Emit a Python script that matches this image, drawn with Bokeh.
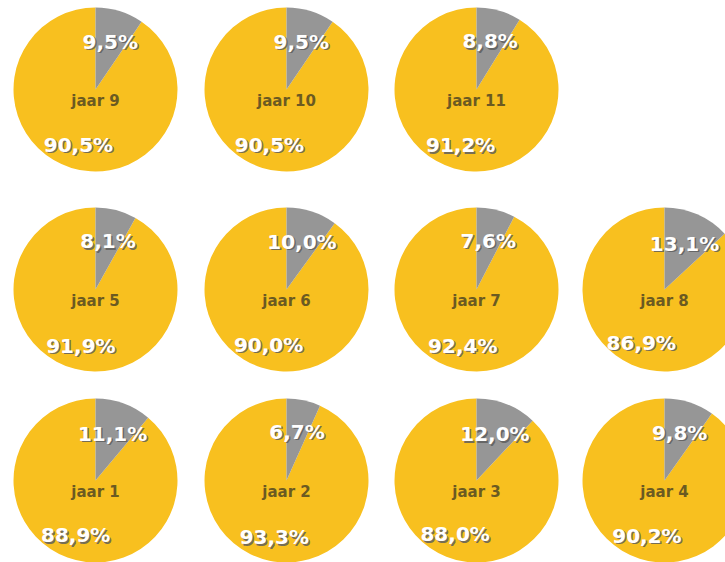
import math
from bokeh.plotting import figure
from bokeh.models import Range1d
from bokeh.core.properties import value
from bokeh.embed import file_html
from bokeh.resources import INLINE

# Data
years = ["jaar 9", "jaar 10", "jaar 11",
         "jaar 5", "jaar 6", "jaar 7", "jaar 8",
         "jaar 1", "jaar 2", "jaar 3", "jaar 4"]
gray_pct = [9.5, 9.5, 8.8, 8.1, 10.0, 7.6, 13.1, 11.1, 6.7, 12.0, 9.8]
yellow_pct = [90.5, 90.5, 91.2, 91.9, 90.0, 92.4, 86.9, 88.9, 93.3, 88.0, 90.2]
gray_labels = ["9,5%", "9,5%", "8,8%", "8,1%", "10,0%", "7,6%", "13,1%", "11,1%", "6,7%", "12,0%", "9,8%"]
yellow_labels = ["90,5%", "90,5%", "91,2%", "91,9%", "90,0%", "92,4%", "86,9%", "88,9%", "93,3%", "88,0%", "90,2%"]

# Layout (grid positions, image pixel coordinates)
W, H = 725, 562
col_x = [95, 286, 476, 664]
row_y = [89, 289, 480]
grid = [(0, 0), (1, 0), (2, 0),
        (0, 1), (1, 1), (2, 1), (3, 1),
        (0, 2), (1, 2), (2, 2), (3, 2)]
R = 82

YELLOW = "#F8C01F"
GRAY = "#969696"

p = figure(width=W, height=H, output_backend="svg", toolbar_location=None,
           x_range=Range1d(0, W), y_range=Range1d(0, H),
           min_border=0)
p.axis.visible = False
p.grid.visible = False
p.outline_line_color = None
p.background_fill_color = "white"
p.border_fill_color = "white"

cx, cy = [], []
g_start, g_end, y_start, y_end = [], [], [], []
gx, gy, yx, yy = [], [], [], []
for (c, r), g, yv in zip(grid, gray_pct, yellow_pct):
    x0 = col_x[c]
    y0 = H - row_y[r]
    cx.append(x0)
    cy.append(y0)
    top = math.pi / 2
    gang = g / 100 * 2 * math.pi
    g_start.append(top - gang)
    g_end.append(top)
    y_start.append(top)
    y_end.append(top - gang)
    gm = gang / 2
    gx.append(x0 + 50 * math.sin(gm))
    gy.append(y0 + 50 * math.cos(gm))
    ym = gang + (yv / 100 * 2 * math.pi) / 2
    yx.append(x0 + 58 * math.sin(ym))
    yy.append(y0 + 58 * math.cos(ym))

p.wedge(x=cx, y=cy, radius=R, radius_units="screen", start_angle=y_start, end_angle=y_end,
        fill_color=YELLOW, line_color=None)
p.wedge(x=cx, y=cy, radius=R, radius_units="screen", start_angle=g_start, end_angle=g_end,
        fill_color=GRAY, line_color=None)

font = value("DejaVu Sans")
for xs, ys, labels in [(gx, gy, gray_labels), (yx, yy, yellow_labels)]:
    p.text(x=[v + 1.5 for v in xs], y=[v - 1.5 for v in ys], text=labels,
           text_font=font, text_font_style="bold", text_font_size="20px",
           text_color="#5e5e5e", text_alpha=0.85,
           text_align="center", text_baseline="middle")
    p.text(x=xs, y=ys, text=labels,
           text_font=font, text_font_style="bold", text_font_size="20px",
           text_color="white", text_align="center", text_baseline="middle")

p.text(x=cx, y=[v - 11 for v in cy], text=years,
       text_font=font, text_font_style="bold", text_font_size="15px",
       text_color="#6b5a22", text_align="center", text_baseline="middle")

open("out.html", "w").write(file_html(p, INLINE))
